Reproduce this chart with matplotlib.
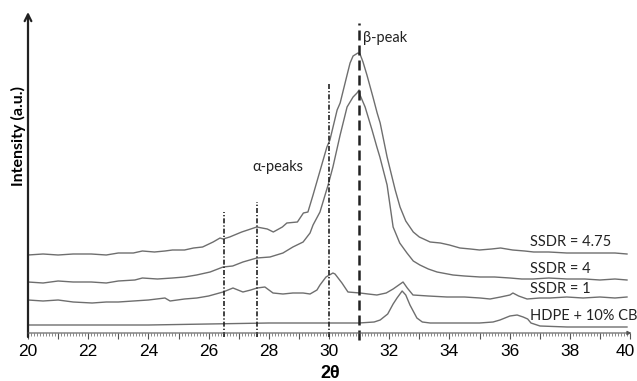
import numpy as np
import matplotlib
matplotlib.use('Agg')
import matplotlib.pyplot as plt
import matplotlib.transforms as mtransforms
from matplotlib.ticker import MultipleLocator

# ----------------------------------------------------------------------------------------------------
# データ (2θ, 強度 a.u.)
# ----------------------------------------------------------------------------------------------------
ssdr_475 = [(20.0, 78), (20.5, 79), (21.0, 78), (21.5, 79), (22.1, 79), (22.6, 78), (23.0, 80), (23.5, 80),
            (23.8, 82), (24.2, 81), (24.55, 82), (24.8, 83), (25.2, 83), (25.5, 85), (25.8, 86), (26.15, 91),
            (26.38, 95), (26.48, 94), (26.7, 96), (27.1, 101), (27.6, 106), (27.95, 104), (28.15, 101),
            (28.45, 106), (28.6, 110), (28.95, 111), (29.15, 120), (29.3, 121), (29.47, 138), (29.7, 162),
            (29.93, 186), (30.03, 193), (30.27, 223), (30.37, 230), (30.6, 258), (30.7, 270), (30.8, 277),
            (30.96, 280), (31.03, 279), (31.13, 271), (31.26, 258), (31.46, 236), (31.6, 220), (31.7, 210),
            (31.93, 176), (32.2, 143), (32.36, 126), (32.55, 112), (32.8, 101), (33.0, 96), (33.36, 91),
            (33.7, 90), (34.0, 88), (34.35, 85), (34.7, 84), (35.0, 83), (35.4, 84), (35.7, 85), (36.1, 83),
            (36.5, 82), (36.8, 81), (37.3, 81), (37.9, 80), (38.4, 80), (39.0, 80), (39.5, 80), (39.9, 79)]

ssdr_4 = [(20.0, 51), (20.5, 50), (21.0, 52), (21.5, 51), (22.1, 51), (22.6, 50), (23.0, 52), (23.55, 53),
          (23.8, 55), (24.3, 54), (24.8, 55), (25.2, 56), (25.6, 58), (26.05, 61), (26.48, 66), (26.8, 67),
          (27.14, 71), (27.6, 75), (28.04, 76), (28.47, 80), (28.8, 86), (29.14, 91), (29.37, 100),
          (29.47, 108), (29.7, 121), (29.97, 148), (30.13, 166), (30.37, 198), (30.6, 226), (30.8, 236),
          (30.93, 240), (31.0, 243), (31.03, 238), (31.2, 226), (31.43, 203), (31.59, 186), (31.69, 176),
          (31.93, 148), (32.13, 106), (32.35, 90), (32.59, 80), (32.8, 72), (33.02, 68), (33.3, 64),
          (33.59, 61), (34.12, 58), (34.5, 57), (35.02, 56), (35.5, 56), (36.01, 55), (36.4, 54),
          (36.78, 54), (37.3, 55), (37.91, 54), (38.5, 54), (39.0, 53), (39.5, 54), (39.9, 53)]

ssdr_1 = [(20.0, 33), (20.5, 32), (21.0, 33), (21.5, 31), (22.13, 30), (22.6, 31), (23.0, 31), (23.5, 32),
          (24.0, 33), (24.55, 35), (24.72, 32), (25.2, 34), (25.61, 35), (26.0, 37), (26.48, 41),
          (26.81, 45), (27.14, 41), (27.4, 43), (27.61, 45), (27.87, 46), (28.14, 40), (28.47, 39),
          (28.8, 40), (29.14, 40), (29.37, 39), (29.6, 43), (29.7, 48), (29.9, 56), (30.13, 60), (30.2, 59),
          (30.43, 50), (30.63, 41), (31.03, 40), (31.3, 39), (31.59, 38), (31.9, 40), (32.13, 44),
          (32.46, 51), (32.6, 45), (32.79, 38), (33.3, 37), (33.92, 36), (34.5, 36), (35.02, 35),
          (35.35, 34), (35.7, 36), (36.01, 38), (36.11, 40), (36.3, 37), (36.58, 34), (37.0, 35),
          (37.34, 35), (37.9, 36), (38.44, 35), (39.0, 36), (39.5, 35), (39.9, 36)]

hdpe_cb = [(20.0, 8), (22.0, 8), (24.0, 8), (26.0, 9), (28.0, 10), (30.0, 10), (31.0, 10), (31.5, 11),
           (31.7, 13), (31.95, 19), (32.13, 29), (32.26, 35), (32.43, 42), (32.55, 38), (32.69, 28),
           (32.92, 15), (33.1, 11), (33.36, 10), (34.0, 10), (35.0, 10), (35.45, 11), (35.68, 13),
           (36.01, 17), (36.25, 18), (36.45, 16), (36.6, 14), (36.71, 10), (37.01, 7), (37.91, 6),
           (38.5, 6), (39.9, 6)]

series = [ssdr_475, ssdr_4, ssdr_1, hdpe_cb]
labels = ['SSDR = 4.75', 'SSDR = 4', 'SSDR = 1', 'HDPE + 10% CB']
label_y = [91, 64, 44, 17]

# ピーク位置 (α: 一点鎖線, β: 破線) と線の上端
alpha_pos = [26.5, 27.6, 30.0]
alpha_top = [121, 131, 250]
beta_pos = 31.0
beta_top = 310

# ----------------------------------------------------------------------------------------------------
# グラフ描画
# ----------------------------------------------------------------------------------------------------
txt_font = ['Lato', 'DejaVu Sans']
line_col = '#6e6e6e'

fig = plt.figure(figsize=(6.37, 3.81), dpi=100)
ax = fig.add_axes([28 / 637, 48 / 381, 602 / 637, 321 / 381])
ax.set_xlim(20, 40)
ax.set_ylim(0, 321)

for data in series:
	d = np.array(data)
	ax.plot(d[:, 0], d[:, 1], color=line_col, lw=1.0)

for (lab, y) in zip(labels, label_y):
	ax.text(36.68, y, lab, family=txt_font, fontsize=10.5, color='#222222', ha='left', va='center')

# α / β ピークの縦線
for (x, top) in zip(alpha_pos, alpha_top):
	ax.plot([x, x], [-4, top], color='#222222', lw=1.2, ls=(0, (3, 1.2, 0.8, 1.2)), clip_on=False)
ax.plot([beta_pos, beta_pos], [-7, beta_top], color='#222222', lw=1.8, ls=(0, (4, 2)), clip_on=False)

ax.text(27.47, 166, 'α-peaks', family=txt_font, fontsize=10.5, color='#222222', ha='left', va='center')
ax.text(31.13, 295, 'β-peak', family=txt_font, fontsize=10.5, color='#222222', ha='left', va='center')

# 軸 (矢印付き)
for s in ax.spines.values():
	s.set_visible(False)
ax.annotate('', xy=(20, 321), xytext=(20, -4), xycoords='data', annotation_clip=False,
			arrowprops=dict(arrowstyle='->', lw=1.6, color='#222222', mutation_scale=12, shrinkA=0, shrinkB=0))
ax.annotate('', xy=(40.05, 0), xytext=(20, 0), xycoords='data', annotation_clip=False,
			arrowprops=dict(arrowstyle='-|>', lw=0.8, color='#555555', mutation_scale=6, shrinkA=0, shrinkB=0))

ax.set_yticks([])
ax.set_xticks(range(20, 41))
ax.set_xticklabels([str(v) if v % 2 == 0 else '' for v in range(20, 41)])
ax.xaxis.set_minor_locator(MultipleLocator(0.1))
ax.tick_params(axis='x', which='major', length=4, width=0.8, color='#555555', pad=4,
			   labelsize=12.5, labelfontfamily='Liberation Sans')
ax.tick_params(axis='x', which='minor', length=2.2, width=0.6, color='#777777')

# 右端の "40" が切れないように少し左へ寄せる
last_lab = ax.get_xticklabels()[-1]
last_lab.set_transform(last_lab.get_transform() + mtransforms.ScaledTranslation(-5 / 100, 0, fig.dpi_scale_trans))

fig.text(330 / 637, 1 - 373 / 381, '2θ', family='Liberation Sans', fontweight='bold', fontsize=13,
		 ha='center', va='center')
fig.text(18 / 637, 1 - 136 / 381, 'Intensity (a.u.)', family=txt_font, fontweight='bold', fontsize=11.5,
		 rotation=90, ha='center', va='center')

fig.savefig('out.png', dpi=100)
plt.close(fig)
